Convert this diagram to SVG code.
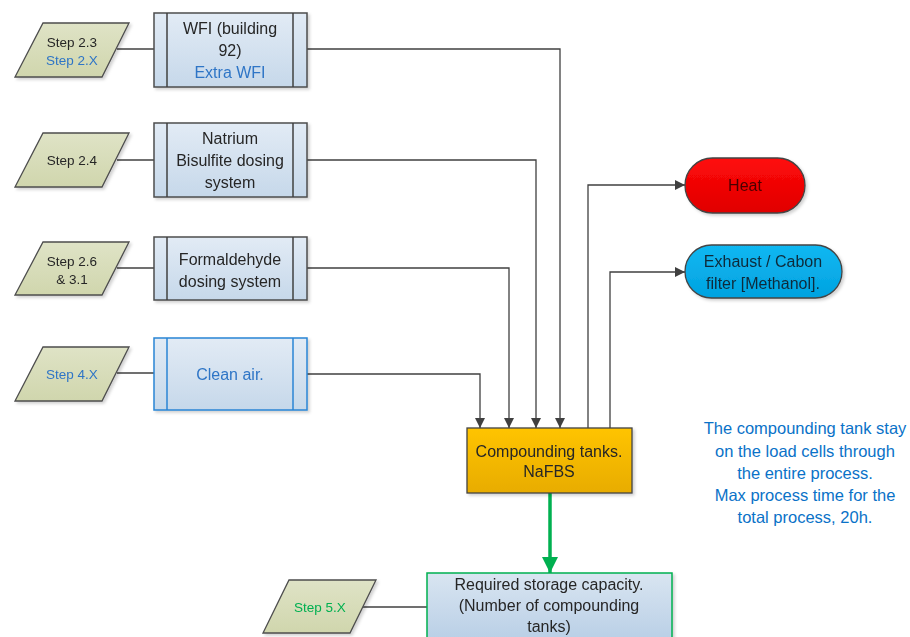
<svg xmlns="http://www.w3.org/2000/svg" width="910" height="637" viewBox="0 0 910 637">
<style>
text{font-family:"Liberation Sans",Arial,sans-serif;font-size:16px;text-anchor:middle;fill:#262626}
.sm{font-size:13.5px}
.blue{fill:#2e75c6}
.note{fill:#0a72c8;font-size:16.5px}
.para{fill:url(#gPara);stroke:#4d4d4d;stroke-width:1.3}
.proc{fill:url(#gProc);stroke:#4d4d4d;stroke-width:1.5}
.procB{fill:url(#gProc);stroke:#2a85d5;stroke-width:1.5}
.conn{fill:none;stroke:#404040;stroke-width:1.3}
</style>
<defs>
<linearGradient id="gPara" x1="0" y1="0" x2="0" y2="1"><stop offset="0" stop-color="#dfe3c6"/><stop offset="1" stop-color="#d0d6ad"/></linearGradient>
<linearGradient id="gProc" x1="0" y1="0" x2="0" y2="1"><stop offset="0" stop-color="#e2ebf5"/><stop offset="1" stop-color="#c6d8ea"/></linearGradient>
<linearGradient id="gStore" x1="0" y1="0" x2="0" y2="1"><stop offset="0" stop-color="#d9e5f1"/><stop offset="1" stop-color="#b3cbe4"/></linearGradient>
<linearGradient id="gComp" x1="0" y1="0" x2="0" y2="1"><stop offset="0" stop-color="#ffc400"/><stop offset="1" stop-color="#e8ac00"/></linearGradient>
<linearGradient id="gHeat" x1="0" y1="0" x2="0" y2="1"><stop offset="0" stop-color="#ff0a0a"/><stop offset="1" stop-color="#e00000"/></linearGradient>
<linearGradient id="gExh" x1="0" y1="0" x2="0" y2="1"><stop offset="0" stop-color="#12b8f2"/><stop offset="1" stop-color="#00a2e0"/></linearGradient>
<filter id="sh" x="-10%" y="-10%" width="130%" height="130%"><feDropShadow dx="2" dy="2" stdDeviation="1.5" flood-color="#000" flood-opacity="0.18"/></filter>
<marker id="ah" viewBox="0 0 10 10" refX="10" refY="5" markerWidth="10" markerHeight="10" markerUnits="userSpaceOnUse" orient="auto"><path d="M0,0 L10,5 L0,10 z" fill="#404040"/></marker>
<marker id="ahG" viewBox="0 0 10 10" refX="10" refY="5" markerWidth="16" markerHeight="16" markerUnits="userSpaceOnUse" orient="auto"><path d="M0,0 L10,5 L0,10 z" fill="#00b050"/></marker>
</defs>

<g id="connectors">
<line class="conn" x1="117" y1="49" x2="154" y2="49"/>
<line class="conn" x1="117" y1="160" x2="154" y2="160"/>
<line class="conn" x1="117" y1="268" x2="154" y2="268"/>
<line class="conn" x1="117" y1="373" x2="154" y2="373"/>
<line class="conn" x1="363" y1="607" x2="427" y2="607"/>
<path class="conn" d="M307,49 H560 V428" marker-end="url(#ah)"/>
<path class="conn" d="M307,160 H536 V428" marker-end="url(#ah)"/>
<path class="conn" d="M307,268 H509 V428" marker-end="url(#ah)"/>
<path class="conn" d="M307,374 H480 V428" marker-end="url(#ah)"/>
<path class="conn" d="M588,428 V185 H685" marker-end="url(#ah)"/>
<path class="conn" d="M610,428 V272 H685" marker-end="url(#ah)"/>
<path d="M550,493 V573" fill="none" stroke="#00b050" stroke-width="3.5" marker-end="url(#ahG)"/>
</g>

<g id="step23" filter="url(#sh)"><polygon class="para" points="43,23 129,23 102,77 15,77"/><text class="sm" x="72" y="47">Step 2.3</text><text class="sm blue" x="72" y="65">Step 2.X</text></g>
<g id="step24" filter="url(#sh)"><polygon class="para" points="43,133 129,133 102,187 15,187"/><text class="sm" x="72" y="165">Step 2.4</text></g>
<g id="step26" filter="url(#sh)"><polygon class="para" points="43,242 129,242 102,295 15,295"/><text class="sm" x="72" y="266">Step 2.6</text><text class="sm" x="72" y="284">&amp; 3.1</text></g>
<g id="step4x" filter="url(#sh)"><polygon class="para" points="43,347 129,347 102,401 15,401"/><text class="sm blue" x="72" y="379">Step 4.X</text></g>
<g id="step5x" filter="url(#sh)"><polygon class="para" points="289,580 376,580 350,633 263,633"/><text class="sm" x="320" y="612" style="fill:#00b050">Step 5.X</text></g>

<g id="wfi" filter="url(#sh)"><rect class="proc" x="154" y="13" width="153" height="74"/><line class="conn" x1="167" y1="13" x2="167" y2="87" style="stroke-width:1.5"/><line class="conn" x1="293" y1="13" x2="293" y2="87" style="stroke-width:1.5"/><text x="230" y="34">WFI (building</text><text x="230" y="56">92)</text><text class="blue" x="230" y="78">Extra WFI</text></g>
<g id="natrium" filter="url(#sh)"><rect class="proc" x="154" y="123" width="153" height="74"/><line class="conn" x1="167" y1="123" x2="167" y2="197" style="stroke-width:1.5"/><line class="conn" x1="293" y1="123" x2="293" y2="197" style="stroke-width:1.5"/><text x="230" y="144">Natrium</text><text x="230" y="166">Bisulfite dosing</text><text x="230" y="188">system</text></g>
<g id="formaldehyde" filter="url(#sh)"><rect class="proc" x="154" y="237" width="153" height="63"/><line class="conn" x1="167" y1="237" x2="167" y2="300" style="stroke-width:1.5"/><line class="conn" x1="293" y1="237" x2="293" y2="300" style="stroke-width:1.5"/><text x="230" y="265">Formaldehyde</text><text x="230" y="287">dosing system</text></g>
<g id="cleanair" filter="url(#sh)"><rect class="procB" x="154" y="338" width="153" height="72"/><line x1="167" y1="338" x2="167" y2="410" stroke="#2a85d5" stroke-width="1.5"/><line x1="293" y1="338" x2="293" y2="410" stroke="#2a85d5" stroke-width="1.5"/><text class="blue" x="230" y="380">Clean air.</text></g>

<g id="compounding" filter="url(#sh)"><rect x="467" y="428" width="165" height="65" fill="url(#gComp)" stroke="#444" stroke-width="1.3"/><text x="549" y="457">Compounding tanks.</text><text x="549" y="477">NaFBS</text></g>
<g id="heat" filter="url(#sh)"><rect x="685" y="158" width="120" height="55" rx="27.5" fill="url(#gHeat)" stroke="#444" stroke-width="1.3"/><text x="745" y="191" style="fill:#4a0000">Heat</text></g>
<g id="exhaust" filter="url(#sh)"><rect x="685" y="245" width="157" height="53" rx="26.5" fill="url(#gExh)" stroke="#444" stroke-width="1.3"/><text x="763" y="267" style="fill:#0d2a3a">Exhaust / Cabon</text><text x="763" y="289" style="fill:#0d2a3a">filter [Methanol].</text></g>
<g id="storage" filter="url(#sh)"><rect x="427" y="573" width="245" height="80" fill="url(#gStore)" stroke="#00b050" stroke-width="1.5"/><text x="549" y="590">Required storage capacity.</text><text x="549" y="611">(Number of compounding</text><text x="549" y="632">tanks)</text></g>

<g id="note"><text class="note" x="805" y="434">The compounding tank stay</text><text class="note" x="805" y="457">on the load cells through</text><text class="note" x="805" y="479">the entire process.</text><text class="note" x="805" y="501">Max process time for the</text><text class="note" x="805" y="523">total process, 20h.</text></g>
</svg>
